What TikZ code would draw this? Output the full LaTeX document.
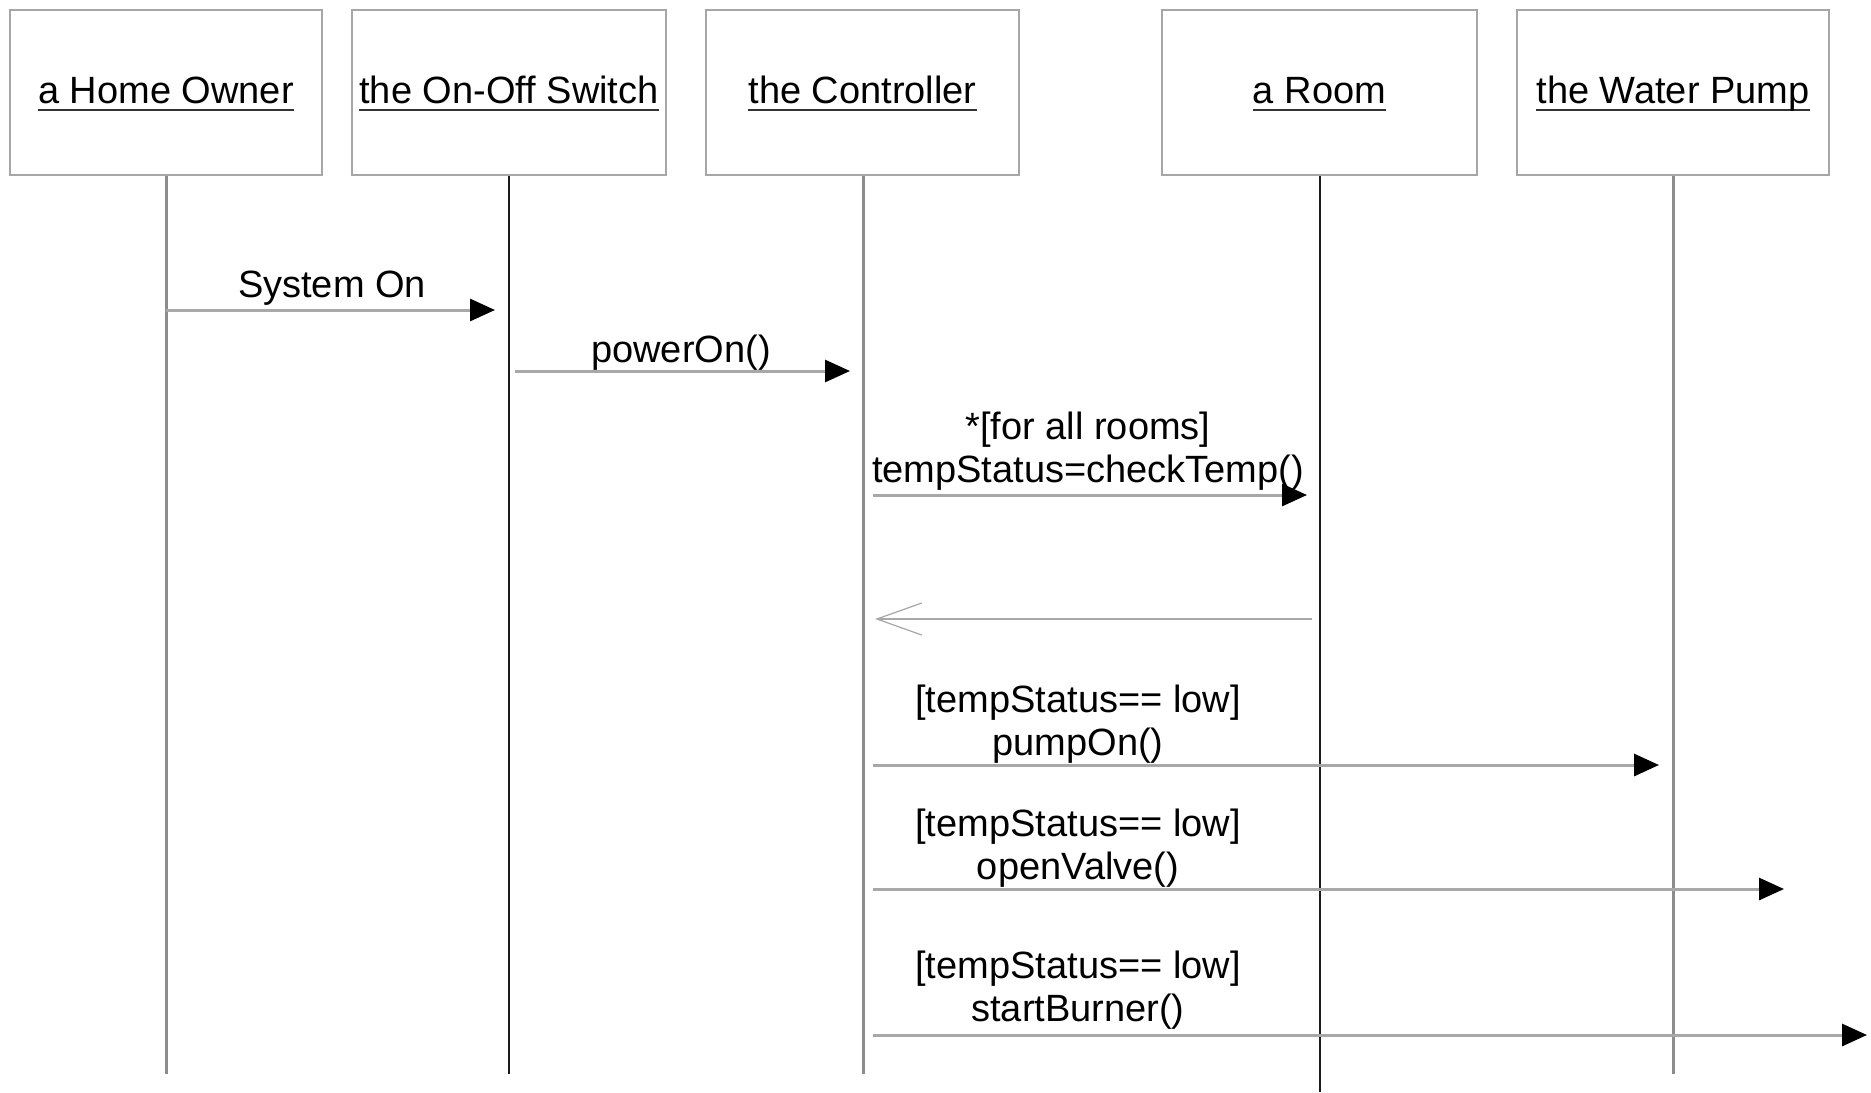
\documentclass[tikz,border=0pt]{standalone}
\usepackage{fontspec}
\setmainfont{Liberation Sans}
\usetikzlibrary{arrows.meta}

\definecolor{boxline}{HTML}{A6A6A6}
\definecolor{msgline}{HTML}{A8A8A8}
\definecolor{lifegray}{HTML}{8C8C8C}
\definecolor{lifedark}{HTML}{1A1A1A}
\definecolor{ulcolor}{HTML}{333333}

% object name with a fixed-depth underline (same level for every name)
\newcommand\objname[1]{\setbox0\hbox{#1}\rlap{\color{ulcolor}\rule[-3.5pt]{\wd0}{1pt}}\box0}

\begin{document}
\begin{tikzpicture}[x=0.5pt,y=-0.5pt,
  font=\fontsize{19pt}{21.5pt}\selectfont,
  obj/.style={draw=boxline, line width=1.25pt, fill=white, minimum width=#1,
    minimum height=82.5pt, inner sep=0pt, text height=14pt, text depth=3pt},
  lifeg/.style={draw=lifegray, line width=1.5pt},
  lifek/.style={draw=lifedark, line width=1.25pt},
  msg/.style={draw=msgline, line width=1.5pt,
    -{Triangle[length=12.5pt,width=11pt,color=black,fill=black]}},
  reply/.style={draw=msgline, line width=1.25pt,
    -{Straight Barb[length=22.5pt,width=16pt,line width=0.6pt,color=boxline]}},
  lbl/.style={inner sep=0pt, align=center, anchor=base}]

\fill[white] (0,0) rectangle (1871,1092);
\useasboundingbox (0,0) rectangle (1871,1092);

% lifeline ends
\coordinate (hoE) at (166,1074);
\coordinate (swE) at (509,1074);
\coordinate (ctE) at (863,1074);
\coordinate (rmE) at (1320,1092);
\coordinate (wpE) at (1673,1074);

% objects
\node[obj=156pt]   (ho) at (166,92.5)    {\objname{a Home Owner}};
\node[obj=157pt]   (sw) at (509,92.5)    {\objname{the On-Off Switch}};
\node[obj=156.5pt] (ct) at (862.5,92.5)  {\objname{the Controller}};
\node[obj=157.5pt] (rm) at (1319.5,92.5) {\objname{a Room}};
\node[obj=156pt]   (wp) at (1673,92.5)   {\objname{the Water Pump}};

% lifelines
\draw[lifeg] (ho.south -| hoE) -- (hoE);
\draw[lifek] (sw.south -| swE) -- (swE);
\draw[lifeg] (ct.south -| ctE) -- (ctE);
\draw[lifek] (rm.south -| rmE) -- (rmE);
\draw[lifeg] (wp.south -| wpE) -- (wpE);

% message end points
\coordinate (m1a) at (166,310);  \coordinate (m1b) at (495,310);
\coordinate (m2a) at (515,371);  \coordinate (m2b) at (850,371);
\coordinate (m3a) at (873,495);  \coordinate (m3b) at (1307,495);
\coordinate (m4a) at (1312,619); \coordinate (m4b) at (875,619);
\coordinate (m5a) at (873,765);  \coordinate (m5b) at (1659,765);
\coordinate (m6a) at (873,889);  \coordinate (m6b) at (1784,889);
\coordinate (m7a) at (873,1035); \coordinate (m7b) at (1867,1035);

% messages
\draw[msg] (m1a) -- (m1b);
\draw[msg] (m2a) -- (m2b);
\draw[msg] (m3a) -- (m3b);
\draw[reply] (m4a) -- (m4b);
\draw[msg] (m5a) -- (m5b);
\draw[msg] (m6a) -- (m6b);
\draw[msg] (m7a) -- (m7b);

% message labels
\node[lbl] (t1) at (332,297)  {System On};
\node[lbl] (t2) at (681,362)  {powerOn()};
\node[lbl] (t3) at (1088,482) {*[for all rooms]\\tempStatus=checkTemp()};
\node[lbl] (t5) at (1078,755) {[tempStatus== low]\\pumpOn()};
\node[lbl] (t6) at (1078,879) {[tempStatus== low]\\openValve()};
\node[lbl] (t7) at (1078,1021) {[tempStatus== low]\\startBurner()};

\end{tikzpicture}
\end{document}
